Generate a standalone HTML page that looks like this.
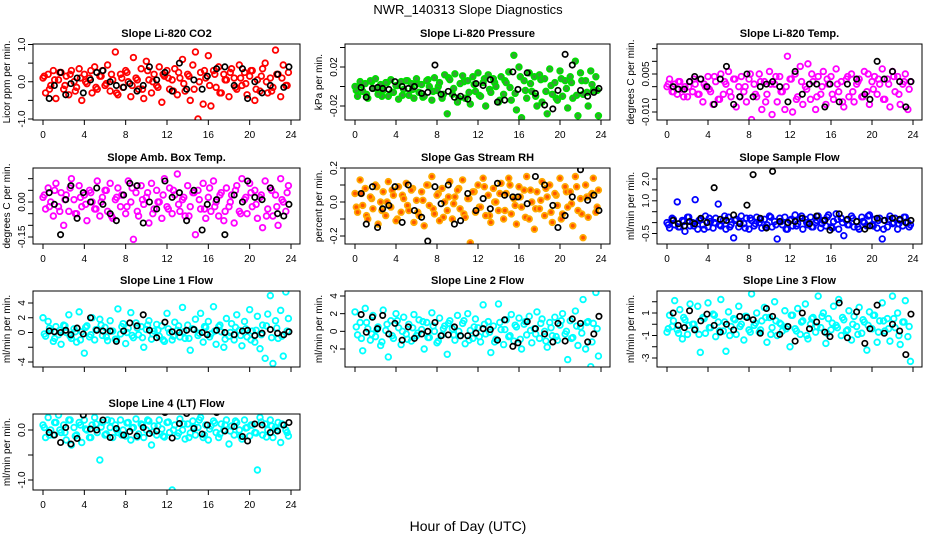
<!DOCTYPE html>
<html><head><meta charset="utf-8"><style>
html,body{margin:0;padding:0;background:#fff;}
svg{display:block;font-family:"Liberation Sans",Arial,sans-serif;}
</style></head><body>
<svg id="chart" width="936" height="540" viewBox="0 0 936 540">
<text x="468" y="14" text-anchor="middle" font-size="13">NWR_140313  Slope Diagnostics</text>
<text x="468" y="531" text-anchor="middle" font-size="14">Hour of Day (UTC)</text>
</svg>
<script>
const colorHours = [0,0.25,0.5,0.75,1,1.25,1.5,1.75,2,2.25,2.5,2.75,3,3.25,3.5,3.75,4,4.25,4.5,4.75,5,5.25,5.5,5.75,6,6.25,6.5,6.75,7,7.25,7.5,7.75,8,8.25,8.5,8.75,9,9.25,9.5,9.75,10,10.25,10.5,10.75,11,11.25,11.5,11.75,12,12.25,12.5,12.75,13,13.25,13.5,13.75,14,14.25,14.5,14.75,15,15.25,15.5,15.75,16,16.25,16.5,16.75,17,17.25,17.5,17.75,18,18.25,18.5,18.75,19,19.25,19.5,19.75,20,20.25,20.5,20.75,21,21.25,21.5,21.75,22,22.25,22.5,22.75,23,23.25,23.5,23.75];
const colorHours2 = [0.125,0.625,1.125,1.625,2.125,2.625,3.125,3.625,4.125,4.625,5.125,5.625,6.125,6.625,7.125,7.625,8.125,8.625,9.125,9.625,10.125,10.625,11.125,11.625,12.125,12.625,13.125,13.625,14.125,14.625,15.125,15.625,16.125,16.625,17.125,17.625,18.125,18.625,19.125,19.625,20.125,20.625,21.125,21.625,22.125,22.625,23.125,23.625];
const blackHours = [0.6,1.1,1.7,2.2,2.7,3.3,3.9,4.6,5.2,5.8,6.5,7.1,7.8,8.4,9.1,9.7,10.3,11.0,11.8,12.5,13.2,13.9,14.6,15.4,15.9,16.8,17.6,18.5,19.3,19.8,20.5,21.2,22.0,22.7,23.3,23.8];
const xTicks = [0,4,8,12,16,20,24];

const co2Values = [0.1,-0.3,0.2,-0.1,0.3,-0.45,0.05,0.25,-0.2,0.15,-0.35,0.3, 0.0,-0.15,0.35,-0.5,0.2,-0.05,0.1,-0.3,0.4,-0.2,0.15,0.3, -0.1,0.45,-0.25,0.05,0.8,-0.35,0.2,-0.15,0.3,0.0,-0.4,0.65, 0.1,-0.2,0.35,-0.45,0.55,0.05,-0.3,0.2,-0.1,0.4,-0.55,0.15, 0.3,-0.2,0.05,0.35,-0.35,0.1,0.6,-0.25,0.2,-0.5,0.45,0.8, -1.0,0.25,-0.6,0.1,0.7,-0.65,0.3,-0.15,0.4,-0.3,0.2,0.05, -0.4,0.35,0.1,-0.2,0.45,-0.1,0.25,-0.35,0.15,0.3,-0.5,0.05, -0.25,0.35,0.5,-0.3,0.1,-0.15,0.85,0.2,-0.4,0.45,-0.1,0.25];
const co2Values2 = [0.15,-0.2,0.05,0.25,-0.1,0.2,-0.25,0.1,0.0,0.3,-0.15,0.15, -0.05,0.2,-0.3,0.1,0.25,-0.1,0.05,-0.2,0.3,0.0,-0.15,0.2, 0.1,-0.25,0.25,-0.05,0.15,-0.2,0.0,0.3,-0.1,0.2,-0.3,0.05, 0.25,-0.15,0.1,-0.05,0.3,-0.2,0.15,0.0,-0.25,0.2,0.1,-0.1];
const co2Black = [-0.45,-0.1,0.25,-0.35,-0.05,0.1,-0.3,0.05,0.25,0.3,0.0,-0.1,-0.15,-0.05,-0.25,-0.1,0.4,0.05,0.25,-0.25,0.5,-0.2,0.05,-0.2,0.15,0.35,0.4,-0.1,0.35,-0.45,0.0,-0.3,-0.1,0.2,-0.15,0.4];

const pressureValues = [0.0,-0.01,0.005,-0.005,0.003,-0.012,0.006,-0.002,0.008,-0.008,0.002,-0.004, 0.004,-0.01,0.007,-0.006,0.001,-0.013,0.005,-0.003,0.006,-0.009,0.003,-0.012, 0.008,-0.006,0.002,-0.01,0.006,0.0,-0.014,0.009,-0.004,0.004,-0.012,0.012, -0.028,0.007,-0.008,0.013,-0.016,0.003,0.011,-0.012,0.006,-0.018,0.01,-0.005, 0.014,-0.01,0.004,-0.02,0.012,-0.006,0.008,0.0,-0.016,0.01,-0.008,0.004, 0.015,-0.014,0.032,-0.024,0.02,-0.032,0.006,-0.012,0.014,-0.005,0.01,-0.02, 0.012,-0.016,0.008,-0.028,0.018,-0.008,0.004,-0.014,0.016,-0.01,0.006,-0.022, 0.01,-0.012,0.026,-0.03,0.014,-0.008,0.006,-0.02,0.016,-0.004,0.01,-0.03];
const pressureValues2 = [-0.004,0.002,-0.008,0.005,-0.002,-0.01,0.004,-0.006,0.001,-0.009,0.006,-0.003, 0.003,-0.011,0.007,-0.005,0.0,-0.008,0.009,-0.002,-0.012,0.005,-0.006,0.002, -0.009,0.008,-0.003,0.004,-0.014,0.006,-0.001,-0.007,0.01,-0.004,0.003,-0.01, 0.007,-0.005,0.001,-0.012,0.008,-0.002,0.004,-0.009,0.006,-0.006,0.002,-0.004];
const pressureBlack = [-0.001,-0.011,-0.002,-0.001,-0.002,-0.003,0.005,0.0,-0.002,0.0,-0.007,-0.006,0.022,-0.008,-0.005,-0.011,-0.01,-0.013,0.003,0.001,0.007,-0.016,-0.014,0.015,-0.003,0.014,-0.007,-0.019,-0.023,-0.004,0.033,0.022,-0.004,-0.01,-0.006,-0.002];

const tempValues = [0.0,0.003,-0.002,0.001,-0.003,0.002,-0.001,0.0,-0.004,0.002,-0.002,0.001, -0.003,0.003,-0.006,0.0,0.004,-0.002,-0.007,0.002,-0.005,0.005,-0.003,0.001, 0.006,-0.004,0.003,-0.008,0.0,0.004,-0.002,-0.006,0.003,-0.013,0.001,-0.004, 0.005,-0.009,0.002,-0.003,0.006,-0.011,0.001,-0.006,0.004,-0.002,-0.009,0.012, 0.003,-0.01,0.005,-0.004,0.008,-0.007,0.0,0.009,-0.005,0.002,-0.009,0.004, -0.003,0.006,-0.007,0.001,0.004,-0.005,0.007,-0.002,0.002,-0.008,0.003,-0.004, 0.005,-0.006,0.001,0.003,-0.004,0.006,-0.002,-0.007,0.002,0.004,-0.003,0.001, 0.007,-0.005,0.003,-0.008,0.006,-0.002,0.004,-0.007,0.001,0.005,-0.009,0.002];
const tempValues2 = [0.001,-0.002,0.002,-0.004,0.0,0.003,-0.003,0.001,-0.001,0.004,-0.005,0.002, -0.002,0.003,-0.004,0.0,0.005,-0.003,0.002,-0.006,0.001,0.004,-0.002,0.0, 0.003,-0.005,0.002,-0.001,0.005,-0.004,0.0,0.003,-0.003,0.001,-0.006,0.004, -0.002,0.002,-0.004,0.005,-0.001,0.003,-0.005,0.001,0.004,-0.003,0.002,-0.001];
const tempBlack = [0.0,-0.001,-0.001,0.002,0.004,0.003,0.0,-0.007,0.003,0.008,-0.007,-0.004,0.005,-0.004,0.0,0.001,0.002,0.0,-0.006,0.006,-0.003,0.001,0.001,-0.008,0.001,-0.006,0.001,0.003,-0.003,-0.005,0.01,0.003,0.006,0.002,-0.008,0.002];

const ambValues = [0.02,-0.03,0.06,0.0,-0.06,0.08,-0.02,0.04,-0.1,0.03,-0.04,0.1, 0.01,-0.05,0.07,-0.02,0.03,-0.08,0.05,0.0,-0.03,0.09,-0.06,0.02, 0.05,-0.04,0.08,-0.07,0.01,0.06,-0.02,0.03,-0.05,0.09,0.0,-0.16, 0.04,-0.06,0.07,-0.01,0.02,-0.09,0.08,-0.03,0.05,0.0,-0.07,0.1, -0.02,0.06,-0.05,0.03,0.12,-0.04,0.01,-0.06,0.07,-0.02,0.04,-0.14, 0.05,-0.03,0.08,-0.07,0.02,-0.04,0.09,0.0,-0.06,0.04,-0.08,0.06, -0.02,0.03,-0.09,0.07,-0.04,0.1,0.01,-0.05,0.08,-0.02,0.05,-0.07, 0.02,-0.11,0.09,-0.03,0.06,-0.06,0.03,-0.1,0.1,0.0,-0.04,0.07];
const ambValues2 = [0.03,-0.02,0.05,-0.04,0.01,0.06,-0.05,0.02,-0.01,0.04,-0.03,0.0, 0.05,-0.06,0.02,0.03,-0.02,0.06,-0.04,0.01,0.04,-0.05,0.0,0.03, -0.03,0.05,-0.01,0.02,-0.06,0.04,0.01,-0.03,0.06,-0.02,0.03,-0.04, 0.0,0.05,-0.05,0.02,0.04,-0.01,0.03,-0.06,0.05,-0.02,0.01,0.04];
const ambBlack = [0.04,-0.01,-0.14,0.01,0.07,-0.07,0.04,0.0,0.06,-0.01,-0.05,-0.08,0.03,0.08,0.07,-0.09,0.0,-0.03,0.09,0.02,0.04,-0.08,0.05,-0.12,-0.01,0.01,-0.14,0.03,0.0,0.09,0.02,0.01,0.06,-0.05,-0.06,-0.01];

const rhValues = [0.05,-0.06,0.13,-0.02,0.08,-0.1,0.03,-0.04,0.1,-0.13,0.0,0.06, -0.08,0.12,-0.03,0.04,-0.11,0.09,-0.06,0.02,0.11,-0.05,0.07,-0.12, 0.01,-0.08,0.06,-0.14,0.1,-0.02,0.15,-0.07,0.04,-0.11,0.08,0.0, -0.05,0.12,-0.1,0.03,0.07,-0.04,0.13,-0.09,0.02,-0.24,0.06,-0.06, 0.1,-0.03,0.14,-0.08,0.04,-0.12,0.08,0.0,-0.05,0.11,-0.1,0.05, 0.14,-0.07,0.02,-0.13,0.09,-0.03,0.07,0.15,-0.1,0.0,-0.16,0.06, -0.04,0.12,-0.08,0.03,0.1,-0.12,0.05,-0.02,0.14,-0.07,0.09,-0.03, 0.06,-0.14,0.15,-0.05,0.02,-0.21,0.1,-0.09,0.04,0.14,-0.06,0.07];
const rhValues2 = [-0.03,0.05,-0.08,0.02,0.09,-0.05,0.0,0.07,-0.1,0.04,-0.02,0.08, -0.06,0.01,0.1,-0.04,0.05,-0.09,0.03,-0.01,0.08,-0.07,0.02,0.06, -0.03,0.09,-0.08,0.0,0.05,-0.05,0.1,-0.02,0.03,-0.09,0.07,-0.04, 0.01,0.08,-0.06,0.04,-0.1,0.06,-0.01,0.09,-0.07,0.03,0.05,-0.03];
const rhBlack = [0.05,-0.13,0.09,-0.15,-0.04,-0.02,0.09,-0.12,0.1,-0.05,-0.09,-0.23,0.09,-0.01,0.1,-0.13,-0.11,0.05,-0.05,0.02,-0.04,0.11,0.04,0.03,0.03,-0.01,0.15,0.1,-0.02,-0.15,-0.08,0.03,0.19,0.01,0.04,-0.05];

const flowValues = [0.0,-0.25,0.2,-0.1,0.95,-0.2,0.1,-0.4,0.25,-0.15,0.0,1.05, -0.3,0.15,-0.1,0.3,-0.2,0.05,-0.25,0.2,0.85,-0.15,0.1,-0.3, 0.25,-0.1,-0.7,0.15,-0.2,0.3,-0.05,0.2,-0.3,0.1,-0.15,0.25, 0.0,-0.25,0.15,-0.1,0.3,-0.2,0.05,-0.75,0.2,-0.1,0.25,-0.3, 0.1,-0.15,0.35,-0.05,0.2,-0.3,0.15,-0.1,0.25,-0.2,0.0,0.3, -0.25,0.1,-0.15,0.35,-0.2,0.05,0.4,-0.3,0.2,-0.6,0.1,-0.1, 0.3,-0.2,0.05,-0.3,0.25,0.0,-0.15,0.35,-0.1,0.15,-0.25,0.2, -0.75,0.1,-0.2,0.3,-0.05,0.2,-0.3,0.1,-0.15,0.25,0.0,-0.1];
const flowValues2 = [-0.1,0.15,-0.2,0.05,0.25,-0.15,0.1,-0.3,0.2,0.0,-0.1,0.3, -0.2,0.1,0.0,-0.25,0.2,-0.05,0.15,-0.2,0.25,-0.1,0.05,-0.3, 0.15,-0.15,0.3,0.0,-0.2,0.1,-0.05,0.25,-0.25,0.15,0.0,-0.1, 0.2,-0.2,0.05,0.3,-0.15,0.1,-0.3,0.15,0.0,-0.05,0.25,-0.2];
const flowBlack = [0.1,-0.05,-0.15,0.05,-0.05,0.2,0.0,1.6,0.15,0.1,0.35,-0.05,0.8,2.2,0.2,-0.25,2.35,0.05,0.0,0.05,0.2,-0.05,0.3,0.1,-0.35,0.4,0.15,0.05,-0.3,-0.15,0.2,0.1,0.2,0.15,0.0,0.1];

const line1Values = [2.0,-0.5,1.5,0.3,-1.2,0.8,-0.3,-1.6,1.0,0.0,2.4,-0.8, 0.5,-1.3,2.8,0.1,-2.8,0.9,-0.6,2.0,-1.0,0.4,1.8,-0.4, 0.7,-1.1,1.6,0.2,-0.9,3.2,-0.2,1.2,-1.5,0.6,2.7,-0.7, 1.3,-0.3,0.8,-2.0,0.4,1.6,-0.9,0.2,1.1,-0.5,0.9,-1.2, 2.6,0.0,-1.0,1.4,0.3,-0.6,3.4,-0.8,1.0,-2.4,0.5,1.8, -0.4,2.6,-1.3,0.7,1.5,-0.2,3.5,-1.6,0.8,0.1,-2.0,1.9, -0.5,1.2,-1.0,2.4,0.3,-1.8,1.5,-0.6,3.1,0.2,-1.3,2.2, -2.2,1.0,-3.5,2.5,5.0,-4.2,1.6,-0.8,3.0,-3.2,5.5,1.9];
const line1Values2 = [-0.2,0.6,-0.8,0.3,0.9,-0.5,0.1,-1.0,0.7,-0.3,0.4,1.0, -0.6,0.2,-0.9,0.8,0.0,-0.4,0.6,-0.7,1.0,-0.2,0.3,-1.0, 0.5,-0.5,0.9,0.1,-0.8,0.4,-0.1,0.8,-0.6,0.2,1.0,-0.9, 0.0,0.7,-0.4,0.5,-1.0,0.3,-0.3,0.9,-0.7,0.6,-0.5,0.2];
const line1Black = [0.2,0.1,0.0,0.3,-0.3,0.6,-0.2,2.0,0.3,0.2,0.2,-1.2,0.2,1.3,0.9,2.4,0.3,-0.7,1.4,0.1,0.0,0.3,0.4,0.0,-0.3,0.3,0.0,-0.3,0.2,0.3,-0.4,-0.1,0.4,-0.1,-0.3,0.1];

const line2Values = [2.2,-0.4,1.0,-2.2,2.6,0.3,-1.0,1.8,-0.6,0.5,-1.6,2.4, 0.1,-2.9,1.2,-0.8,2.0,0.4,-1.5,1.6,-0.3,0.8,-1.1,1.9, -0.5,1.3,0.2,-2.0,1.0,-0.7,2.1,0.0,-1.3,1.5,-0.4,0.6, -2.6,1.2,0.3,-1.0,1.8,-0.5,0.9,-1.4,2.0,0.1,-0.8,1.4, 0.4,-1.2,3.0,-0.3,1.1,-2.4,0.6,-0.9,3.1,0.2,-1.5,1.3, -0.6,1.9,-1.1,0.5,1.5,-2.0,0.8,-0.4,1.7,-1.3,0.3,2.2, -0.8,1.4,0.0,-1.8,1.0,-0.5,1.6,-1.0,0.7,2.0,-0.3,-3.2, 1.2,-0.7,2.3,-1.6,0.5,3.6,-2.0,1.1,-4.0,0.9,4.4,-2.8];
const line2Values2 = [0.5,-0.8,1.0,-0.3,0.2,-1.2,0.8,-0.5,1.2,0.0,-0.9,0.4, -0.2,1.1,-0.7,0.6,-1.1,0.3,0.9,-0.4,0.0,1.2,-1.0,0.5, -0.6,0.8,-0.1,-1.2,1.0,0.2,-0.5,0.7,-0.9,1.1,0.1,-0.3, 0.9,-1.1,0.4,-0.6,1.2,0.0,-0.8,0.6,-0.2,1.0,-1.2,0.3];
const line2Black = [1.9,-0.1,1.6,0.3,1.8,-0.3,0.9,-1.0,0.5,-0.8,-0.3,0.0,1.0,-0.5,-0.4,0.5,-0.5,-0.5,-0.2,0.3,0.2,-1.0,1.3,-1.7,-1.3,1.1,0.3,-0.3,-1.2,0.9,-1.1,1.4,0.9,-1.2,-0.3,1.7];

const line3Values = [-0.7,0.8,-0.2,2.1,-0.5,1.3,-1.3,0.4,-0.9,1.8,0.0,-0.4, 1.6,-2.5,0.6,-0.8,1.9,-0.3,0.9,-1.1,0.2,2.2,-0.6,-2.4, 1.1,-0.2,0.5,-0.9,1.6,0.0,-1.4,0.7,-0.5,2.7,-0.1,1.0, -0.7,0.3,1.5,-1.6,0.6,-0.3,2.0,-1.0,0.1,-0.6,1.2,-0.2, -2.0,0.8,-0.4,1.4,-0.9,0.3,1.8,-1.3,0.0,0.6,-0.7,2.5, -0.3,1.0,-1.7,0.5,-0.5,1.6,-0.1,2.2,-1.0,0.4,-0.6,1.2, -1.4,0.7,-0.2,1.5,-0.8,0.2,-2.3,1.1,-0.4,0.8,-1.6,0.3, 1.9,-0.6,0.5,-1.5,2.5,-0.3,1.0,-1.8,0.2,2.1,-1.1,-3.3];
const line3Values2 = [-0.4,0.3,-0.8,0.6,-0.1,0.0,-0.9,0.5,-0.3,0.8,-0.6,0.2, -1.0,0.4,-0.2,0.7,-0.7,0.1,-0.5,0.6,-0.9,0.3,0.0,-0.4, 0.8,-0.6,0.2,-1.0,0.5,-0.2,0.7,-0.8,0.1,-0.3,0.6,-0.5, 0.0,-0.9,0.4,-0.1,0.8,-0.7,0.3,-0.4,0.5,-1.0,0.2,-0.2];
const line3Black = [1.0,-0.1,-0.3,1.2,-0.5,0.3,0.9,-0.1,-0.7,0.0,-0.5,0.7,0.6,0.4,-0.8,1.4,0.7,-0.9,-0.2,-1.5,1.0,-0.4,0.2,-0.7,-1.1,1.9,-1.2,1.1,-1.7,-0.4,1.7,-0.8,0.0,-0.6,-2.7,0.9];

const line4Values = [0.1,-0.15,0.25,0.0,-0.1,0.15,0.3,-0.05,0.1,-0.2,0.2,-0.3, 0.05,-0.1,0.15,-0.25,0.2,0.0,-0.15,0.1,0.25,-0.05,-0.6,0.15, -0.1,0.2,0.05,-0.15,0.1,-0.05,0.2,0.0,-0.12,0.15,-0.2,0.05, 0.22,-0.08,0.12,-0.15,0.0,0.18,-0.3,0.08,-0.1,0.2,0.02,-0.14, 0.15,-0.05,-1.2,0.1,-0.12,0.22,0.0,-0.18,0.12,-0.06,0.18,-0.1, 0.05,0.25,-0.15,0.1,-0.2,0.08,0.18,-0.05,-0.15,0.12,0.0,0.2, -0.28,0.08,-0.1,0.15,0.0,-0.18,0.2,0.05,-0.12,0.1,-0.05,-0.8, 0.25,-0.1,0.12,0.0,0.2,-0.15,0.05,0.15,-0.25,0.1,0.0,-0.12];
const line4Values2 = [0.05,-0.1,0.15,0.0,-0.05,0.2,-0.12,0.1,0.02,-0.15,0.12,0.06, -0.08,0.18,0.0,-0.1,0.14,0.04,-0.14,0.1,0.2,-0.04,0.08,-0.12, 0.16,0.0,-0.06,0.12,-0.15,0.06,0.2,-0.1,0.02,0.14,-0.08,0.1, -0.02,0.18,-0.12,0.04,0.1,-0.06,0.16,-0.14,0.08,0.0,0.12,-0.05];
const line4Black = [-0.05,-0.1,-0.25,0.05,-0.28,-0.17,0.3,0.02,0.0,0.2,-0.15,0.03,-0.1,-0.03,-0.12,0.05,-0.07,-0.02,0.35,-0.16,0.13,0.33,0.03,-0.08,0.1,0.35,-0.02,0.07,-0.13,-0.22,0.12,0.1,-0.05,-0.02,0.1,0.15];

const co2Ticks=[-1,-0.5,0,0.5,1], co2Labels=["-1.0","","0.0","","1.0"];
const pressureTicks=[-0.02,0,0.02,0.04], pressureLabels=["-0.02","","0.02",""];
const tempTicks=[-0.01,-0.005,0,0.005,0.01,0.015], tempLabels=["-0.010","","","0.005","",""];
const ambTicks=[-0.15,-0.1,-0.05,0,0.05,0.1], ambLabels=["-0.15","","","0.00","",""];
const rhTicks=[-0.2,-0.1,0,0.1,0.2], rhLabels=["-0.2","","0.0","","0.2"];
const flowTicks=[-0.5,0,0.5,1,1.5,2], flowLabels=["-0.5","","","1.0","","2.0"];
const line1Ticks=[-4,-2,0,2,4], line1Labels=["-4","","0","2","4"];
const line2Ticks=[-2,0,2,4], line2Labels=["-2","0","2","4"];
const line3Ticks=[-3,-2,-1,0,1,2], line3Labels=["-3","","-1","","1",""];
const line4Ticks=[-1,-0.5,0], line4Labels=["-1.0","","0.0"];

const NS="http://www.w3.org/2000/svg";
const svg=document.getElementById('chart');
function mk(tag,attrs,parent){const e=document.createElementNS(NS,tag);for(const k in attrs)e.setAttribute(k,attrs[k]);(parent||svg).appendChild(e);return e;}
const cols=[{x0:43,x24:291},{x0:355,x24:601},{x0:667,x24:913}];
const rows=[{top:44,bot:120},{top:168,bot:244},{top:291,bot:367},{top:414,bot:490}];
const panels=[
 {key:'co2',title:'Slope Li-820 CO2',ylab:'Licor ppm per min.',c:0,r:0,vals:co2Values,vals2:co2Values2,blk:co2Black,ticks:co2Ticks,labels:co2Labels,ref:[1,44.5,-1,119],col:'#ff0000',fill:'none',xl:true},
 {key:'pressure',title:'Slope Li-820 Pressure',ylab:'kPa per min.',c:1,r:0,vals:pressureValues,vals2:pressureValues2,blk:pressureBlack,ticks:pressureTicks,labels:pressureLabels,ref:[0.02,67,-0.02,106],col:'#00dd00',fill:'#3c9a3c',xl:true},
 {key:'temp',title:'Slope Li-820 Temp.',ylab:'degrees C per min.',c:2,r:0,vals:tempValues,vals2:tempValues2,blk:tempBlack,ticks:tempTicks,labels:tempLabels,ref:[0.005,74,-0.01,112],col:'#ff00ff',fill:'none',xl:true},
 {key:'amb',title:'Slope Amb. Box Temp.',ylab:'degrees C per min.',c:0,r:1,vals:ambValues,vals2:ambValues2,blk:ambBlack,ticks:ambTicks,labels:ambLabels,ref:[0,202,-0.15,237],col:'#ff00ff',fill:'none',xl:true},
 {key:'rh',title:'Slope Gas Stream RH',ylab:'percent per min.',c:1,r:1,vals:rhValues,vals2:rhValues2,blk:rhBlack,ticks:rhTicks,labels:rhLabels,ref:[0.2,168,-0.2,236],col:'#ffaa00',fill:'#ff5500',xl:true},
 {key:'flow',title:'Slope Sample Flow',ylab:'ml/min per min.',c:2,r:1,vals:flowValues,vals2:flowValues2,blk:flowBlack,ticks:flowTicks,labels:flowLabels,ref:[2,179,-0.5,233.5],col:'#0000ff',fill:'none',xl:true},
 {key:'line1',title:'Slope Line 1 Flow',ylab:'ml/min per min.',c:0,r:2,vals:line1Values,vals2:line1Values2,blk:line1Black,ticks:line1Ticks,labels:line1Labels,ref:[4,303,-4,362],col:'#00ffff',fill:'none',xl:false},
 {key:'line2',title:'Slope Line 2 Flow',ylab:'ml/min per min.',c:1,r:2,vals:line2Values,vals2:line2Values2,blk:line2Black,ticks:line2Ticks,labels:line2Labels,ref:[4,296,-2,349],col:'#00ffff',fill:'none',xl:false},
 {key:'line3',title:'Slope Line 3 Flow',ylab:'ml/min per min.',c:2,r:2,vals:line3Values,vals2:line3Values2,blk:line3Black,ticks:line3Ticks,labels:line3Labels,ref:[1,313,-3,358],col:'#00ffff',fill:'none',xl:false},
 {key:'line4',title:'Slope Line 4 (LT) Flow',ylab:'ml/min per min.',c:0,r:3,vals:line4Values,vals2:line4Values2,blk:line4Black,ticks:line4Ticks,labels:line4Labels,ref:[0,430,-1,480],col:'#00ffff',fill:'none',xl:true}
];
panels.forEach(p=>{
  const C=cols[p.c],R=rows[p.r];
  const xs=h=>C.x0+(C.x24-C.x0)*h/24;
  const ys=v=>p.ref[1]+(v-p.ref[0])*(p.ref[3]-p.ref[1])/(p.ref[2]-p.ref[0]);
  const L=C.x0-10,Rt=C.x24+9;
  const g=mk('g',{});
  
  
  const cp=mk('clipPath',{id:'clip-'+p.key},g);
  mk('rect',{x:L,y:R.top,width:Rt-L,height:R.bot-R.top},cp);
  const t=mk('text',{x:(L+Rt)/2,y:R.top-7,'text-anchor':'middle','font-size':11,'font-weight':'bold'},g);
  t.textContent=p.title;
  
  
  const yt=mk('text',{x:0,y:0,'text-anchor':'middle','font-size':10,transform:`translate(${L-23},${(R.top+R.bot)/2}) rotate(-90)`},g);
  yt.textContent=p.ylab;
  
  
  const pts=mk('g',{'clip-path':`url(#clip-${p.key})`},g);
  
  
  const n2=Math.min(colorHours2.length,p.vals2.length);
  for(let i=0;i<n2;i++){
    const c=mk('circle',{cx:xs(colorHours2[i]),cy:ys(p.vals2[i]),r:2.8,fill:p.fill,stroke:p.col,'stroke-width':1.8},pts);
    
    
  }
  const n=Math.min(colorHours.length,p.vals.length);
  for(let i=0;i<n;i++){
    const c=mk('circle',{cx:xs(colorHours[i]),cy:ys(p.vals[i]),r:2.8,fill:p.fill,stroke:p.col,'stroke-width':1.8},pts);
    
    
  }
  const m=Math.min(blackHours.length,p.blk.length);
  for(let i=0;i<m;i++){
    const c=mk('circle',{cx:xs(blackHours[i]),cy:ys(p.blk[i]),r:2.7,fill:'none',stroke:'#000','stroke-width':1.7},pts);
    
    
  }
  const box=mk('rect',{x:L,y:R.top,width:Rt-L,height:R.bot-R.top,fill:'none',stroke:'#000','stroke-width':1},g);
  
  
  p.ticks.forEach((v,i)=>{
    const y=ys(v);
    mk('line',{x1:L-5,x2:L,y1:y,y2:y,stroke:'#000'},g);
    if(p.labels[i]){
      const lt=mk('text',{x:0,y:0,'text-anchor':'middle','font-size':10,transform:`translate(${L-8},${y}) rotate(-90)`},g);
      lt.textContent=p.labels[i];
      
      
    }
  });
  xTicks.forEach(h=>{
    const x=xs(h);
    mk('line',{x1:x,x2:x,y1:R.bot,y2:R.bot+5,stroke:'#000'},g);
    if(p.xl){
      const xt=mk('text',{x:x,y:R.bot+18,'text-anchor':'middle','font-size':10},g);
      xt.textContent=String(h);
      
      
    }
  });
});
</script>
</body></html>
